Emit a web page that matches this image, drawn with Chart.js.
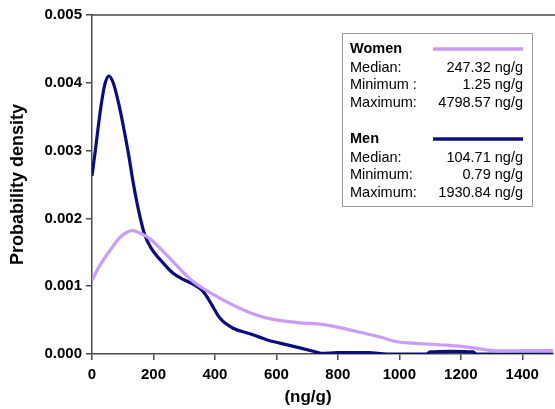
<!DOCTYPE html>
<html>
<head>
<meta charset="utf-8">
<script src="https://cdn.jsdelivr.net/npm/chart.js@4/dist/chart.umd.min.js"></script>
<style>
  html, body { margin: 0; padding: 0; background: #fff; }
</style>
</head>
<body>
<canvas id="myChart" width="555" height="409"></canvas>
<script>
// concentration (ng/g) and density
const womenX = [0, 26, 59, 91, 115, 134, 167, 199, 264, 329, 390, 459, 525, 589, 676, 741, 806, 872, 937, 991, 1045, 1153, 1240, 1305, 1400, 1500];
const womenY = [0.00109, 0.00131, 0.00153, 0.00172, 0.00180, 0.00182, 0.00176, 0.00166, 0.00136, 0.00107, 0.00089, 0.00072, 0.00059, 0.00051, 0.00046, 0.00044, 0.00039, 0.00032, 0.00025, 0.00018, 0.00016, 0.00013, 0.00009, 0.00005, 0.00005, 0.00005];

const menX = [0, 10, 20, 31, 42, 55, 69, 86, 102, 118, 134, 151, 172, 194, 232, 264, 297, 329, 362, 384, 416, 459, 514, 568, 611, 676, 720, 745, 800, 900, 960, 1090, 1100, 1170, 1240, 1250, 1500];
const menY = [0.00263, 0.00297, 0.00334, 0.00371, 0.00398, 0.00410, 0.00400, 0.00371, 0.00336, 0.00297, 0.00253, 0.00213, 0.00175, 0.00155, 0.00134, 0.00119, 0.00110, 0.00103, 0.00092, 0.00077, 0.00053, 0.00038, 0.00030, 0.00021, 0.00016, 0.00009, 0.00004, 0.00001, 0.00002, 0.00002, 0, 0, 0.00003, 0.00004, 0.00003, 0, 0];

const xTicks = [0, 200, 400, 600, 800, 1000, 1200, 1400];
const yTicks = [0, 0.001, 0.002, 0.003, 0.004, 0.005];

const seriesNames = ['Women', 'Men'];
const seriesColors = ['#c89cf7', '#0c0c7e'];
const statLabels = [['Median:', 'Minimum :', 'Maximum:'], ['Median:', 'Minimum:', 'Maximum:']];
const statValues = [['247.32 ng/g', '1.25 ng/g', '4798.57 ng/g'], ['104.71 ng/g', '0.79 ng/g', '1930.84 ng/g']];

const toPoints = (xs, ys) => xs.map((x, i) => ({ x: x, y: ys[i] }));

// legend box, top frame line and x title
const extras = {
  id: 'extras',
  afterDraw(chart) {
    const c = chart.ctx;
    const a = chart.chartArea;
    c.save();
    c.strokeStyle = '#4a4a4a';
    c.lineWidth = 1.5;
    c.beginPath();
    c.moveTo(a.left, a.top);
    c.lineTo(chart.width, a.top);
    c.stroke();

    c.fillStyle = '#000';
    c.font = 'bold 17px "Liberation Sans", Arial, sans-serif';
    c.textAlign = 'center';
    c.textBaseline = 'middle';
    c.fillText('(ng/g)', 308, 397);

    c.fillStyle = '#fff';
    c.fillRect(342.5, 33.5, 190, 173);
    c.strokeStyle = '#999';
    c.lineWidth = 1;
    c.strokeRect(342.5, 33.5, 190, 173);

    const tops = [49, 139];
    for (let s = 0; s < 2; s++) {
      const y0 = tops[s];
      c.fillStyle = '#000';
      c.textAlign = 'left';
      c.font = 'bold 14.5px "Liberation Sans", Arial, sans-serif';
      c.fillText(seriesNames[s], 350, y0);
      c.strokeStyle = seriesColors[s];
      c.lineWidth = 3.5;
      c.beginPath();
      c.moveTo(433, y0);
      c.lineTo(523, y0);
      c.stroke();
      c.font = '14.5px "Liberation Sans", Arial, sans-serif';
      for (let r = 0; r < 3; r++) {
        const y = y0 + 19 + r * 17.3;
        c.textAlign = 'left';
        c.fillText(statLabels[s][r], 350, y);
        c.textAlign = 'right';
        c.fillText(statValues[s][r], 523, y);
      }
    }
    c.restore();
  }
};

const tickFont = { family: '"Liberation Sans", Arial, sans-serif', size: 15, weight: 'bold' };

const ctx = document.getElementById('myChart');
const chart = new Chart(ctx, {
  type: 'line',
  data: {
    datasets: [
      {
        label: 'Women',
        data: toPoints(womenX, womenY),
        borderColor: seriesColors[0],
        borderWidth: 3.2,
        pointRadius: 0,
        tension: 0.35
      },
      {
        label: 'Men',
        data: toPoints(menX, menY),
        borderColor: seriesColors[1],
        borderWidth: 3.2,
        pointRadius: 0,
        cubicInterpolationMode: 'monotone'
      }
    ]
  },
  options: {
    responsive: false,
    animation: false,
    layout: { padding: { top: 15, right: 2, left: 0, bottom: 0 } },
    plugins: { legend: { display: false }, tooltip: { enabled: false } },
    scales: {
      x: {
        type: 'linear',
        min: 0,
        max: 1500,
        afterBuildTicks: s => { s.ticks = xTicks.map(v => ({ value: v })); },
        afterFit: s => { s.height = 55; },
        ticks: { color: '#000', font: tickFont, padding: 6, maxRotation: 0, autoSkip: false, callback: v => String(v) },
        grid: { drawOnChartArea: false, drawTicks: true, tickLength: 6, color: '#4a4a4a', lineWidth: 1.5 },
        border: { display: true, color: '#4a4a4a', width: 1.5 }
      },
      y: {
        min: 0,
        max: 0.005,
        afterBuildTicks: s => { s.ticks = yTicks.map(v => ({ value: v })); },
        afterFit: s => { s.width = 92; },
        ticks: { color: '#000', font: tickFont, padding: 4, callback: v => v.toFixed(3) },
        grid: { drawOnChartArea: false, drawTicks: true, tickLength: 6, color: '#4a4a4a', lineWidth: 1.5 },
        border: { display: true, color: '#4a4a4a', width: 1.5 },
        title: {
          display: true,
          text: 'Probability density',
          color: '#000',
          font: { family: '"Liberation Sans", Arial, sans-serif', size: 18, weight: 'bold' },
          padding: { top: 7, bottom: 0 }
        }
      }
    }
  },
  plugins: [extras]
});
</script>
</body>
</html>
